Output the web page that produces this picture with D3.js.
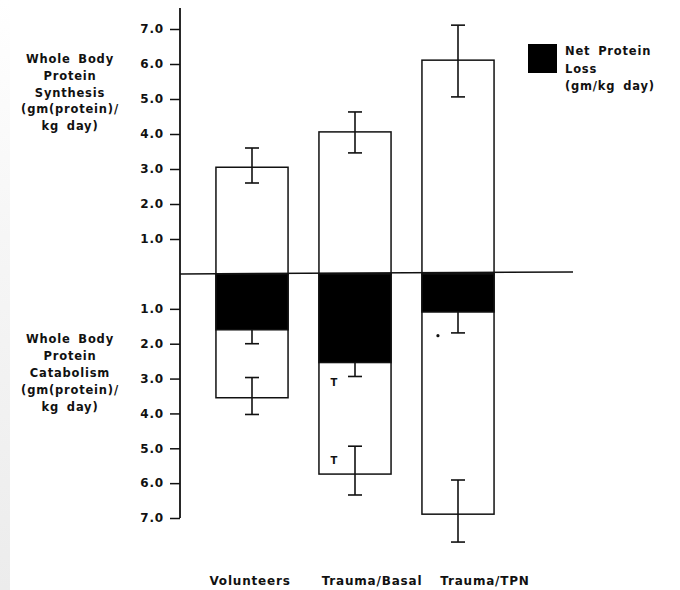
<!DOCTYPE html>
<html><head><meta charset="utf-8">
<script src="https://cdn.jsdelivr.net/npm/d3@7"></script>
<style>
body{margin:0;background:#fff;}
text{font-family:"DejaVu Sans",Arial,sans-serif;font-weight:bold;fill:#111;}
</style></head>
<body><svg id="c" width="680" height="590"></svg>
<script>
const categories = ["Volunteers", "Trauma/Basal", "Trauma/TPN"];
const synthesis = [3.05, 4.06, 6.11];
const synthesisErrHigh = [3.6, 4.63, 7.11];
const synthesisErrLow = [2.6, 3.46, 5.06];
const netLoss = [1.6, 2.54, 1.09];
const netLossErrLow = [2.0, 2.94, 1.69];
const catabolism = [3.55, 5.74, 6.89];
const catabolismErrLow = [2.97, 4.94, 5.91];
const catabolismErrHigh = [4.03, 6.34, 7.69];
const tickValues = [1, 2, 3, 4, 5, 6, 7];
const synthLabel = ["Whole Body", "Protein", "Synthesis", "(gm(protein)/", "kg day)"];
const catabLabel = ["Whole Body", "Protein", "Catabolism", "(gm(protein)/", "kg day)"];
const legendLabel = ["Net Protein", "Loss", "(gm/kg day)"];

const svg = d3.select("#c");
const defs = svg.append("defs");
const g = defs.append("linearGradient").attr("id","edge").attr("x1",0).attr("x2",0).attr("y1",0).attr("y2",1);
g.append("stop").attr("offset","0").attr("stop-color","#fff");
g.append("stop").attr("offset","0.4").attr("stop-color","#f6f6f6");
g.append("stop").attr("offset","1").attr("stop-color","#ececec");
svg.append("rect").attr("x",0).attr("y",0).attr("width",10).attr("height",590).attr("fill","url(#edge)");

const zeroY = 274;
const yUp = d3.scaleLinear().domain([0, 7]).range([zeroY, 29]);
const yDown = d3.scaleLinear().domain([0, 7]).range([zeroY, 518]);
const x = d3.scaleBand().domain(categories).range([200.5, 509.5]).paddingInner(0.3).paddingOuter(0.15);
const axisX = 180;

// axes
const up = svg.append("g").attr("transform", `translate(${axisX},0)`)
  .call(d3.axisLeft(yUp).tickValues(tickValues).tickFormat(d3.format(".1f")).tickSize(10).tickPadding(6));
const down = svg.append("g").attr("transform", `translate(${axisX},0)`)
  .call(d3.axisLeft(yDown).tickValues(tickValues).tickFormat(d3.format(".1f")).tickSize(10).tickPadding(6));
[up, down].forEach(a => {
  a.select(".domain").remove();
  a.selectAll("line").attr("stroke","#111").attr("stroke-width",1.5);
  a.selectAll("text").style("font-size","12px").style("letter-spacing","0.8px").attr("fill","#111");
});
svg.append("line").attr("x1",axisX).attr("x2",axisX).attr("y1",8).attr("y2",yDown(7))
  .attr("stroke","#111").attr("stroke-width",1.8);

const bw = x.bandwidth();
const bars = svg.append("g");
categories.forEach((c, i) => {
  const x0 = x(c);
  bars.append("rect").attr("x", x0).attr("y", yUp(synthesis[i])).attr("width", bw)
    .attr("height", zeroY - yUp(synthesis[i])).attr("fill","#fff").attr("stroke","#111").attr("stroke-width",1.5);
  bars.append("rect").attr("x", x0).attr("y", zeroY).attr("width", bw)
    .attr("height", yDown(catabolism[i]) - zeroY).attr("fill","#fff").attr("stroke","#111").attr("stroke-width",1.5);
  bars.append("rect").attr("x", x0).attr("y", zeroY).attr("width", bw)
    .attr("height", yDown(netLoss[i]) - zeroY).attr("fill","#000").attr("stroke","#111").attr("stroke-width",1.5);
});

// zero line
svg.append("line").attr("x1", axisX).attr("x2", 573).attr("y1", zeroY).attr("y2", zeroY - 2)
  .attr("stroke","#111").attr("stroke-width",1.5);

function errBar(cx, y1, y2, caps) {
  svg.append("line").attr("x1",cx).attr("x2",cx).attr("y1",y1).attr("y2",y2).attr("stroke","#111").attr("stroke-width",1.6);
  caps.forEach(yy => svg.append("line").attr("x1",cx-7).attr("x2",cx+7).attr("y1",yy).attr("y2",yy).attr("stroke","#111").attr("stroke-width",1.6));
}
categories.forEach((c, i) => {
  const cx = x(c) + bw/2;
  errBar(cx, yUp(synthesisErrHigh[i]), yUp(synthesisErrLow[i]), [yUp(synthesisErrHigh[i]), yUp(synthesisErrLow[i])]);
  errBar(cx, yDown(netLoss[i]), yDown(netLossErrLow[i]), [yDown(netLossErrLow[i])]);
  errBar(cx, yDown(catabolismErrLow[i]), yDown(catabolismErrHigh[i]), [yDown(catabolismErrLow[i]), yDown(catabolismErrHigh[i])]);
});

// significance markers
const bx = x("Trauma/Basal");
svg.append("text").attr("x", bx + 15).attr("y", yDown(3.2)).attr("text-anchor","middle").style("font-size","10px").text("T");
svg.append("text").attr("x", bx + 15).attr("y", yDown(5.45)).attr("text-anchor","middle").style("font-size","10px").text("T");
svg.append("circle").attr("cx", x("Trauma/TPN") + 16).attr("cy", yDown(1.77)).attr("r", 1.6).attr("fill","#111");

// category labels
const catX = [250, 372, 485];
categories.forEach((c, i) => {
  svg.append("text").attr("x", catX[i]).attr("y", 585).attr("text-anchor","middle")
    .style("font-size","12px").style("letter-spacing","0.8px").text(c);
});

// side labels
synthLabel.forEach((t, i) => svg.append("text").attr("x", 70).attr("y", 63 + i*16.8).attr("text-anchor","middle")
  .style("font-size","11.5px").style("letter-spacing","0.8px").style("word-spacing","3px").text(t));
catabLabel.forEach((t, i) => svg.append("text").attr("x", 70).attr("y", 343 + i*17).attr("text-anchor","middle")
  .style("font-size","11.5px").style("letter-spacing","0.8px").style("word-spacing","3px").text(t));

// legend
svg.append("rect").attr("x", 528).attr("y", 44).attr("width", 29).attr("height", 29).attr("fill","#000");
legendLabel.forEach((t, i) => svg.append("text").attr("x", 565).attr("y", 55 + i*17.5)
  .style("font-size","11.5px").style("letter-spacing","0.8px").style("word-spacing","3px").text(t));
</script></body></html>
